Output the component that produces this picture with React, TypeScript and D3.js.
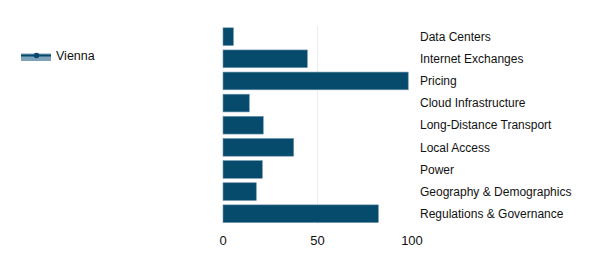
import React from "react";
import * as d3 from "d3";

const categories = [
  "Data Centers",
  "Internet Exchanges",
  "Pricing",
  "Cloud Infrastructure",
  "Long-Distance Transport",
  "Local Access",
  "Power",
  "Geography & Demographics",
  "Regulations & Governance",
];
const viennaValues = [5.5, 44.6, 98, 13.9, 21.3, 37.4, 20.8, 17.6, 82.2];
const xTicks = [0, 50, 100];
const gridTicks = [50];
const seriesName = "Vienna";

const W = 600;
const H = 269;
const FONT = "'Liberation Sans', Arial, Helvetica, sans-serif";
const BAR = "#064a6c";
const BAR_STROKE = "#6d93ad";

export default function App() {
  const x = d3.scaleLinear().domain([0, 100]).range([223, 412]);
  const y = d3
    .scaleBand<string>()
    .domain(categories)
    .range([25.6, 224.8])
    .paddingInner(0.2)
    .paddingOuter(0.1);
  const bw = y.bandwidth();

  return (
    <svg
      width={W}
      height={H}
      style={{ position: "absolute", left: 0, top: 0 }}
      fontFamily={FONT}
    >
      <rect width={W} height={H} fill="#fff" />
      {gridTicks.map((t) => (
        <line
          key={t}
          x1={x(t)}
          x2={x(t)}
          y1={26}
          y2={224}
          stroke="#ececec"
          strokeWidth={1}
        />
      ))}
      {categories.map((c, i) => (
        <rect
          key={c}
          x={x(0)}
          y={y(c)!}
          width={x(viennaValues[i]) - x(0)}
          height={bw}
          fill={BAR}
          stroke={BAR_STROKE}
          strokeWidth={0.6}
        />
      ))}
      {categories.map((c) => (
        <text
          key={c}
          x={420}
          y={y(c)! + bw / 2}
          dy="0.35em"
          fontSize={12}
          fill="#111"
        >
          {c}
        </text>
      ))}
      {xTicks.map((t) => (
        <text
          key={t}
          x={x(t)}
          y={240}
          dy="0.35em"
          textAnchor="middle"
          fontSize={13}
          fill="#111"
        >
          {t}
        </text>
      ))}
      <g>
        <rect x={21} y={53.5} width={30} height={7.5} fill="#7fa2bb" />
        <line x1={21} x2={51} y1={55.5} y2={55.5} stroke={BAR} strokeWidth={2} />
        <circle cx={36.5} cy={55.5} r={2.8} fill={BAR} />
        <text x={56} y={56} dy="0.35em" fontSize={12.5} fill="#111">
          {seriesName}
        </text>
      </g>
    </svg>
  );
}
